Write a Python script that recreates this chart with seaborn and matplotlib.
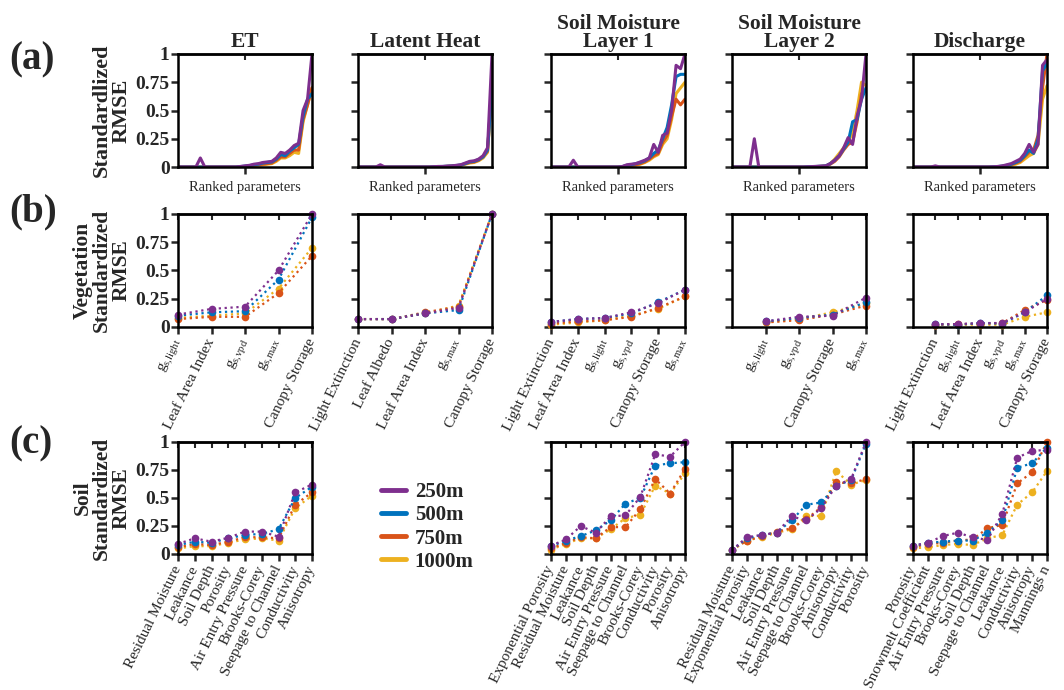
import numpy as np
import pandas as pd
import matplotlib
matplotlib.use('Agg')
import matplotlib.pyplot as plt
import seaborn as sns
from matplotlib.lines import Line2D

# ---------------- data ----------------
resolutions = ['250m', '500m', '750m', '1000m']
palette = {'250m': '#7E2F8E', '500m': '#0072BD', '750m': '#D95319', '1000m': '#EDB120'}
draw_order = ['1000m', '750m', '500m', '250m']
columns = ['ET', 'Latent Heat', 'Soil Moisture\nLayer 1', 'Soil Moisture\nLayer 2', 'Discharge']

# Row (a): ranked parameters (31 ranks)
et_rank_250 = [0, 0, 0, 0, 0, 0.08, 0, 0, 0, 0, 0, 0, 0, 0, 0.005, 0.01, 0.015, 0.025, 0.03, 0.04, 0.045, 0.05, 0.08, 0.13, 0.12, 0.15, 0.19, 0.21, 0.5, 0.6, 1.0]
et_rank_500 = [0, 0, 0, 0, 0, 0, 0, 0, 0, 0, 0, 0, 0, 0, 0.004, 0.008, 0.012, 0.02, 0.025, 0.035, 0.04, 0.045, 0.07, 0.11, 0.1, 0.14, 0.17, 0.2, 0.45, 0.6, 0.65]
et_rank_750 = [0, 0, 0, 0, 0, 0, 0, 0, 0, 0, 0, 0, 0, 0, 0.002, 0.005, 0.01, 0.015, 0.02, 0.025, 0.03, 0.035, 0.06, 0.09, 0.09, 0.12, 0.15, 0.15, 0.42, 0.55, 0.7]
et_rank_1000 = [0, 0, 0, 0, 0, 0, 0, 0, 0, 0, 0, 0, 0, 0, 0.002, 0.004, 0.008, 0.012, 0.016, 0.02, 0.025, 0.03, 0.05, 0.08, 0.08, 0.1, 0.13, 0.12, 0.4, 0.55, 0.7]

lh_rank_250 = [0, 0, 0, 0, 0, 0.02, 0, 0, 0, 0, 0, 0, 0, 0, 0, 0, 0, 0.003, 0.005, 0.005, 0.008, 0.01, 0.015, 0.02, 0.035, 0.05, 0.055, 0.07, 0.1, 0.17, 1.0]
lh_rank_500 = [0, 0, 0, 0, 0, 0, 0, 0, 0, 0, 0, 0, 0, 0, 0, 0, 0, 0.002, 0.004, 0.005, 0.007, 0.009, 0.013, 0.018, 0.03, 0.045, 0.05, 0.065, 0.09, 0.15, 0.7]
lh_rank_750 = [0, 0, 0, 0, 0, 0, 0, 0, 0, 0, 0, 0, 0, 0, 0, 0, 0, 0.002, 0.003, 0.004, 0.006, 0.008, 0.012, 0.016, 0.028, 0.04, 0.045, 0.06, 0.09, 0.14, 0.72]
lh_rank_1000 = [0, 0, 0, 0, 0, 0, 0, 0, 0, 0, 0, 0, 0, 0, 0, 0, 0, 0.001, 0.002, 0.003, 0.005, 0.007, 0.01, 0.014, 0.025, 0.035, 0.04, 0.055, 0.08, 0.13, 0.7]

sm1_rank_250 = [0, 0, 0, 0, 0, 0.06, 0, 0, 0, 0, 0, 0, 0, 0, 0, 0, 0.005, 0.02, 0.025, 0.03, 0.045, 0.06, 0.08, 0.2, 0.13, 0.28, 0.3, 0.5, 0.9, 0.87, 1.0]
sm1_rank_500 = [0, 0, 0, 0, 0, 0, 0, 0, 0, 0, 0, 0, 0, 0, 0, 0, 0.004, 0.015, 0.02, 0.03, 0.04, 0.055, 0.08, 0.12, 0.15, 0.25, 0.35, 0.55, 0.8, 0.82, 0.82]
sm1_rank_750 = [0, 0, 0, 0, 0, 0, 0, 0, 0, 0, 0, 0, 0, 0, 0, 0, 0.003, 0.01, 0.015, 0.02, 0.03, 0.045, 0.07, 0.1, 0.12, 0.22, 0.28, 0.45, 0.6, 0.55, 0.6]
sm1_rank_1000 = [0, 0, 0, 0, 0, 0, 0, 0, 0, 0, 0, 0, 0, 0, 0, 0, 0.002, 0.008, 0.012, 0.018, 0.025, 0.04, 0.06, 0.09, 0.11, 0.2, 0.25, 0.42, 0.65, 0.7, 0.75]

sm2_rank_250 = [0, 0, 0, 0, 0, 0.25, 0, 0, 0, 0, 0, 0, 0, 0, 0, 0, 0, 0.002, 0.004, 0.006, 0.008, 0.01, 0.03, 0.06, 0.1, 0.17, 0.26, 0.2, 0.45, 0.6, 1.0]
sm2_rank_500 = [0, 0, 0, 0, 0, 0, 0, 0, 0, 0, 0, 0, 0, 0, 0, 0, 0, 0.002, 0.003, 0.005, 0.007, 0.01, 0.03, 0.06, 0.1, 0.16, 0.22, 0.4, 0.42, 0.6, 0.7]
sm2_rank_750 = [0, 0, 0, 0, 0, 0, 0, 0, 0, 0, 0, 0, 0, 0, 0, 0, 0, 0.001, 0.003, 0.004, 0.006, 0.008, 0.025, 0.05, 0.09, 0.15, 0.2, 0.22, 0.4, 0.65, 0.68]
sm2_rank_1000 = [0, 0, 0, 0, 0, 0, 0, 0, 0, 0, 0, 0, 0, 0, 0, 0, 0, 0.001, 0.002, 0.003, 0.005, 0.007, 0.03, 0.07, 0.12, 0.17, 0.23, 0.3, 0.5, 0.75, 0.72]

dis_rank_250 = [0, 0, 0, 0, 0, 0.01, 0, 0, 0, 0, 0, 0, 0, 0, 0, 0, 0, 0, 0.002, 0.005, 0.01, 0.02, 0.03, 0.05, 0.07, 0.12, 0.2, 0.13, 0.2, 0.9, 0.95]
dis_rank_500 = [0, 0, 0, 0, 0, 0, 0, 0, 0, 0, 0, 0, 0, 0, 0, 0, 0, 0, 0.002, 0.004, 0.008, 0.015, 0.025, 0.04, 0.06, 0.1, 0.15, 0.12, 0.25, 0.85, 0.92]
dis_rank_750 = [0, 0, 0, 0, 0, 0, 0, 0, 0, 0, 0, 0, 0, 0, 0, 0, 0, 0, 0.001, 0.003, 0.006, 0.012, 0.02, 0.035, 0.05, 0.09, 0.13, 0.15, 0.28, 0.7, 1.0]
dis_rank_1000 = [0, 0, 0, 0, 0, 0, 0, 0, 0, 0, 0, 0, 0, 0, 0, 0, 0, 0, 0.001, 0.002, 0.005, 0.01, 0.015, 0.025, 0.04, 0.07, 0.1, 0.12, 0.2, 0.6, 0.72]

ranked = [
    [et_rank_250, et_rank_500, et_rank_750, et_rank_1000],
    [lh_rank_250, lh_rank_500, lh_rank_750, lh_rank_1000],
    [sm1_rank_250, sm1_rank_500, sm1_rank_750, sm1_rank_1000],
    [sm2_rank_250, sm2_rank_500, sm2_rank_750, sm2_rank_1000],
    [dis_rank_250, dis_rank_500, dis_rank_750, dis_rank_1000],
]

GL = r'$\mathrm{g_{s{,}light}}$'
GV = r'$\mathrm{g_{s{,}vpd}}$'
GM = r'$\mathrm{g_{s{,}max}}$'

# Row (b): vegetation parameters
veg_et_labels = [GL, 'Leaf Area Index', GV, GM, 'Canopy Storage']
veg_et = {'250m': [0.11, 0.16, 0.18, 0.50, 1.00],
          '500m': [0.10, 0.13, 0.14, 0.42, 0.97],
          '750m': [0.07, 0.09, 0.09, 0.30, 0.63],
          '1000m': [0.08, 0.10, 0.12, 0.34, 0.70]}
veg_lh_labels = ['Light Extinction', 'Leaf Albedo', 'Leaf Area Index', GM, 'Canopy Storage']
veg_lh = {'250m': [0.07, 0.07, 0.12, 0.17, 1.00],
          '500m': [0.07, 0.07, 0.12, 0.15, 1.00],
          '750m': [0.07, 0.07, 0.13, 0.18, 1.00],
          '1000m': [0.07, 0.07, 0.12, 0.19, 1.00]}
veg_sm1_labels = ['Light Extinction', 'Leaf Area Index', GL, GV, 'Canopy Storage', GM]
veg_sm1 = {'250m': [0.045, 0.07, 0.08, 0.13, 0.21, 0.33],
           '500m': [0.045, 0.07, 0.08, 0.12, 0.22, 0.33],
           '750m': [0.03, 0.05, 0.06, 0.09, 0.17, 0.27],
           '1000m': [0.02, 0.04, 0.06, 0.10, 0.16, 0.27]}
veg_sm2_labels = [GL, GV, 'Canopy Storage', GM]
veg_sm2 = {'250m': [0.05, 0.09, 0.10, 0.26],
           '500m': [0.05, 0.08, 0.11, 0.22],
           '750m': [0.04, 0.06, 0.11, 0.19],
           '1000m': [0.04, 0.07, 0.13, 0.21]}
veg_dis_labels = ['Light Extinction', GL, 'Leaf Area Index', GV, GM, 'Canopy Storage']
veg_dis = {'250m': [0.025, 0.025, 0.035, 0.035, 0.13, 0.25],
           '500m': [0.025, 0.02, 0.035, 0.03, 0.13, 0.28],
           '750m': [0.02, 0.025, 0.03, 0.035, 0.15, 0.24],
           '1000m': [0.02, 0.02, 0.02, 0.02, 0.09, 0.13]}

# Row (c): soil parameters
soil_et_labels = ['Residual Moisture', 'Leakance', 'Soil Depth', 'Porosity', 'Air Entry Pressure',
                  'Brooks-Corey', 'Seepage to Channel', 'Conductivity', 'Anisotropy']
soil_et = {'250m': [0.09, 0.14, 0.11, 0.145, 0.20, 0.20, 0.155, 0.55, 0.62],
           '500m': [0.08, 0.11, 0.10, 0.14, 0.17, 0.18, 0.22, 0.50, 0.60],
           '750m': [0.06, 0.09, 0.08, 0.11, 0.15, 0.15, 0.14, 0.44, 0.55],
           '1000m': [0.05, 0.07, 0.07, 0.10, 0.13, 0.14, 0.12, 0.41, 0.52]}
soil_sm1_labels = ['Exponential Porosity', 'Residual Moisture', 'Leakance', 'Soil Depth', 'Air Entry Pressure',
                   'Seepage to Channel', 'Brooks-Corey', 'Conductivity', 'Porosity', 'Anisotropy']
soil_sm1 = {'250m': [0.075, 0.13, 0.25, 0.19, 0.335, 0.345, 0.51, 0.89, 0.87, 1.00],
            '500m': [0.07, 0.12, 0.16, 0.21, 0.30, 0.45, 0.50, 0.79, 0.81, 0.82],
            '750m': [0.05, 0.10, 0.15, 0.14, 0.24, 0.24, 0.40, 0.67, 0.54, 0.76],
            '1000m': [0.04, 0.09, 0.14, 0.14, 0.22, 0.32, 0.35, 0.61, 0.54, 0.72]}
soil_sm2_labels = ['Residual Moisture', 'Exponential Porosity', 'Leakance', 'Soil Depth', 'Air Entry Pressure',
                   'Seepage to Channel', 'Brooks-Corey', 'Anisotropy', 'Conductivity', 'Porosity']
soil_sm2 = {'250m': [0.035, 0.15, 0.17, 0.19, 0.335, 0.30, 0.41, 0.61, 0.67, 1.00],
            '500m': [0.035, 0.14, 0.17, 0.19, 0.30, 0.44, 0.46, 0.61, 0.66, 0.985],
            '750m': [0.035, 0.12, 0.16, 0.20, 0.23, 0.31, 0.42, 0.64, 0.63, 0.67],
            '1000m': [0.035, 0.12, 0.15, 0.19, 0.22, 0.34, 0.34, 0.74, 0.62, 0.66]}
soil_dis_labels = ['Porosity', 'Snowmelt Coefficient', 'Air Entry Pressure', 'Brooks-Corey', 'Soil Depth',
                   'Seepage to Channel', 'Leakance', 'Conductivity', 'Anisotropy', 'Mannings n']
soil_dis = {'250m': [0.075, 0.10, 0.16, 0.19, 0.15, 0.125, 0.36, 0.86, 0.92, 0.93],
            '500m': [0.07, 0.10, 0.11, 0.12, 0.12, 0.19, 0.30, 0.77, 0.81, 0.95],
            '750m': [0.06, 0.09, 0.10, 0.12, 0.13, 0.23, 0.26, 0.63, 0.73, 1.00],
            '1000m': [0.05, 0.06, 0.08, 0.09, 0.08, 0.14, 0.17, 0.44, 0.55, 0.74]}

veg_panels = [(veg_et_labels, veg_et, 0), (veg_lh_labels, veg_lh, 0), (veg_sm1_labels, veg_sm1, 0),
              (veg_sm2_labels, veg_sm2, 1), (veg_dis_labels, veg_dis, 1)]
soil_panels = [(soil_et_labels, soil_et, 0), None, (soil_sm1_labels, soil_sm1, 0),
               (soil_sm2_labels, soil_sm2, 0), (soil_dis_labels, soil_dis, 0)]

# ---------------- style ----------------
sns.set_theme(style='white')
plt.rcParams['font.family'] = ['Liberation Serif', 'DejaVu Serif']
plt.rcParams['mathtext.fontset'] = 'custom'
plt.rcParams['mathtext.rm'] = 'Liberation Serif'
plt.rcParams['mathtext.it'] = 'Liberation Serif:italic'
plt.rcParams['mathtext.bf'] = 'Liberation Serif:bold'

W, H = 1064, 690
fig = plt.figure(figsize=(W / 100, H / 100), dpi=100)
col_left = [178, 358, 551, 732, 913]
col_w = 134
rows = [(54, 167), (214, 327), (442, 554)]

yticks = [0, 0.25, 0.5, 0.75, 1]
ytl = ['0', '0.25', '0.5', '0.75', '1']


def make_ax(ci, ri):
    top, bot = rows[ri]
    ax = fig.add_axes([col_left[ci] / W, 1 - bot / H, col_w / W, (bot - top) / H])
    for s in ax.spines.values():
        s.set_visible(True)
        s.set_color('black')
        s.set_linewidth(1.8)
    return ax


def style_ax(ax, ci, xticks):
    ax.set_ylim(0, 1)
    ax.set_yticks(yticks)
    if ci == 0:
        ax.set_yticklabels(ytl, fontsize=14, fontweight='bold')
    else:
        ax.set_yticklabels([])
    ax.tick_params(axis='y', direction='out', length=5, width=1.8, left=True, right=False, pad=1)
    ax.tick_params(axis='x', direction='out', length=5, width=1.8, bottom=True, top=False, pad=2)
    sec = ax.secondary_xaxis('top')
    sec.set_xticks(xticks)
    sec.set_xticklabels([])
    sec.tick_params(direction='in', length=4, width=1.5)
    sec.spines['top'].set_linewidth(1.8)
    ax.set_xlabel('')
    ax.set_ylabel('')


ylabels = ['Standardlized\nRMSE', 'Vegetation\nStandardized\nRMSE', 'Soil\nStandardized\nRMSE']

# Row (a)
for ci in range(5):
    ax = make_ax(ci, 0)
    recs = []
    for r, vals in zip(resolutions, ranked[ci]):
        for i, v in enumerate(vals):
            recs.append({'rank': i, 'val': v, 'res': r})
    df = pd.DataFrame(recs)
    n = len(ranked[ci][0])
    sns.lineplot(data=df, x='rank', y='val', hue='res', hue_order=draw_order, palette=palette,
                 linewidth=2.2, legend=False, ax=ax, estimator=None, sort=False)
    ax.set_xlim(0, n - 1)
    style_ax(ax, ci, [(n - 1) / 2])
    ax.set_xticks([(n - 1) / 2])
    ax.set_xticklabels([])
    ax.set_xlabel('Ranked parameters', fontsize=10.5, labelpad=3)
    ax.set_title(columns[ci], fontsize=15.5, fontweight='bold', pad=5, linespacing=0.85)
    if ci == 0:
        ax.set_ylabel(ylabels[0], fontsize=16, fontweight='bold', linespacing=0.95, labelpad=3)


def draw_cat(ax, ci, labels, data, offset, ri):
    recs = []
    for r in resolutions:
        for i, v in enumerate(data[r]):
            recs.append({'pos': i, 'val': v, 'res': r})
    df = pd.DataFrame(recs)
    sns.lineplot(data=df, x='pos', y='val', hue='res', hue_order=draw_order, palette=palette,
                 linestyle=':', linewidth=1.6, marker='o', markersize=5.5, markeredgewidth=0,
                 legend=False, ax=ax, estimator=None, sort=False, clip_on=False)
    n = len(labels)
    ax.set_xlim(-offset, n - 1)
    ticks = list(range(n))
    style_ax(ax, ci, ticks)
    ax.set_xticks(ticks)
    ax.set_xticklabels(labels, rotation=64, ha='right', va='center', rotation_mode='anchor', fontsize=11)
    ax.tick_params(axis='x', pad=4)
    if ci == 0:
        ax.set_ylabel(ylabels[ri], fontsize=15.5, fontweight='bold', linespacing=0.95, labelpad=3)


for ci, p in enumerate(veg_panels):
    ax = make_ax(ci, 1)
    draw_cat(ax, ci, p[0], p[1], p[2], 1)

for ci, p in enumerate(soil_panels):
    if p is None:
        continue
    ax = make_ax(ci, 2)
    draw_cat(ax, ci, p[0], p[1], p[2], 2)

# legend
handles = [Line2D([0], [0], color=palette[r], lw=3.5) for r in resolutions]
fig.legend(handles, resolutions, loc='upper left', bbox_to_anchor=(373 / W, 1 - 474 / H),
           frameon=False, prop={'weight': 'bold', 'size': 15}, handlelength=1.2,
           handletextpad=0.4, labelspacing=0.15, borderaxespad=0)

# panel labels
for lab, y in [('(a)', 60), ('(b)', 212), ('(c)', 444)]:
    fig.text(9 / W, 1 - y / H, lab, fontsize=28, fontweight='bold', va='center', ha='left')

fig.savefig('out.png', dpi=100)
